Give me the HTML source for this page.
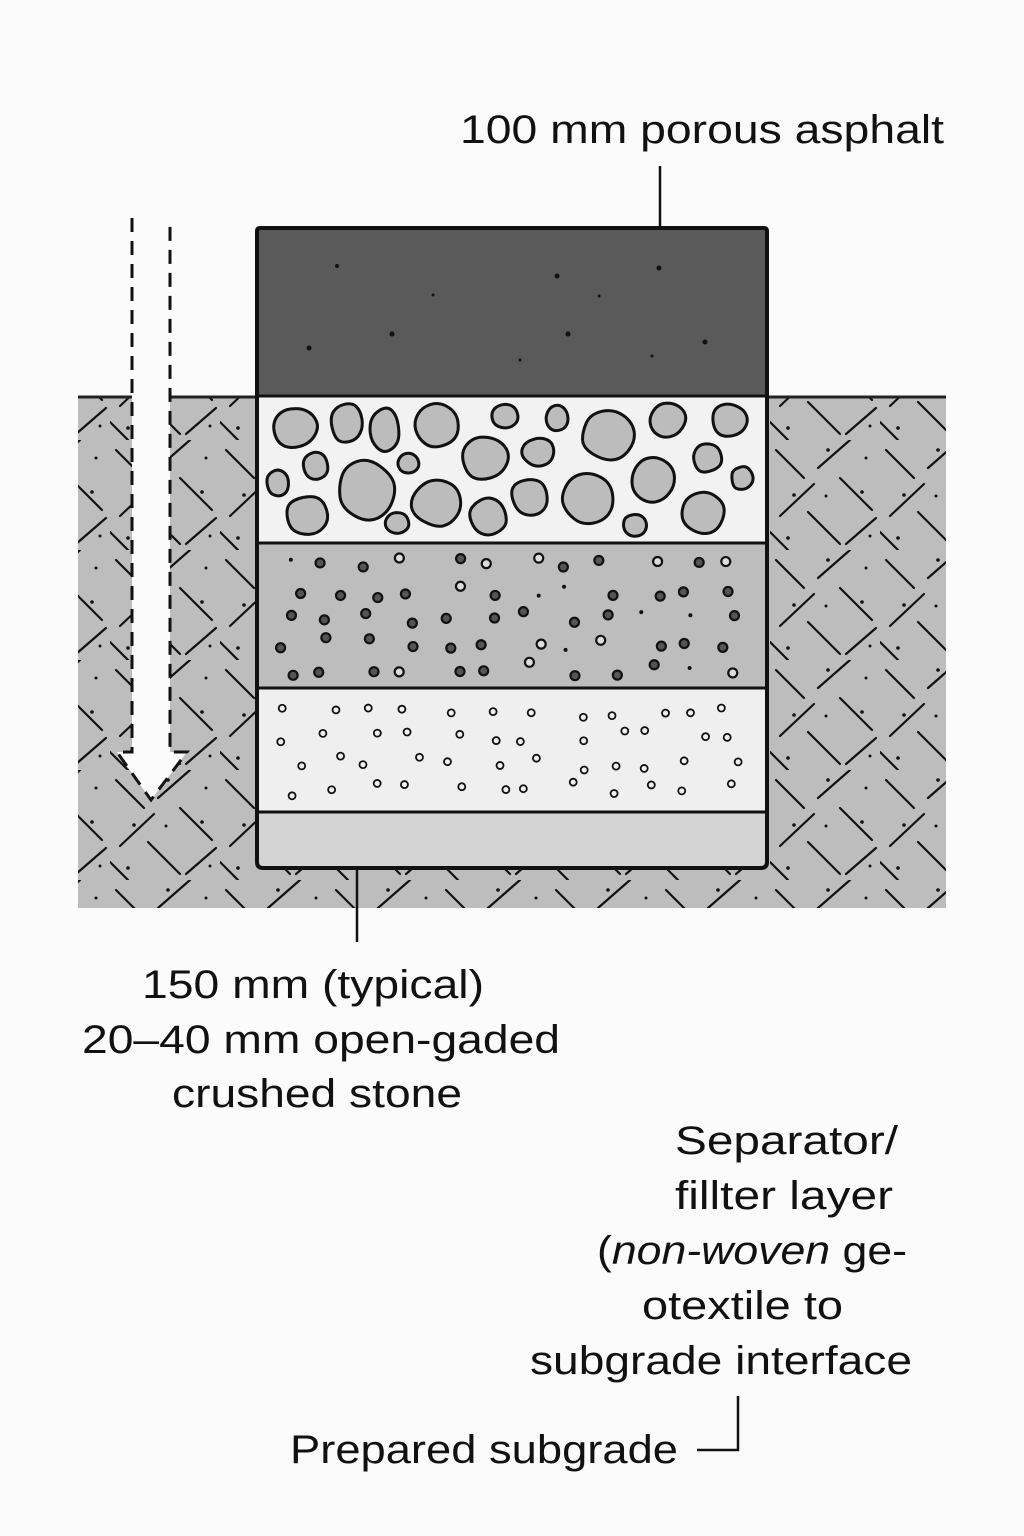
<!DOCTYPE html>
<html><head><meta charset="utf-8"><style>
html,body{margin:0;padding:0;background:#fbfbfb;}
svg{display:block;}
text{font-family:"Liberation Sans",sans-serif;font-size:40px;fill:#111;}
</style></head><body>
<svg id="s" width="1024" height="1536" viewBox="0 0 1024 1536" xmlns="http://www.w3.org/2000/svg">
<defs>
<pattern id="hatch" width="110" height="110" patternUnits="userSpaceOnUse">
<rect width="110" height="110" fill="#bdbdbd"/>
<g stroke="#111" stroke-width="2.2" stroke-linecap="round">
<line x1="6" y1="10" x2="34" y2="38"/>
<line x1="48" y1="28" x2="80" y2="0"/>
<line x1="70" y1="38" x2="102" y2="70"/>
<line x1="10" y1="76" x2="44" y2="44"/>
<line x1="38" y1="72" x2="70" y2="104"/>
<line x1="76" y1="104" x2="106" y2="78"/>
<line x1="0" y1="92" x2="18" y2="110"/>
</g>
<g fill="#111"><circle cx="58" cy="10" r="1.8"/><circle cx="24" cy="55" r="1.8"/><circle cx="92" cy="52" r="1.8"/><circle cx="56" cy="56" r="1.5"/><circle cx="18" cy="98" r="1.8"/><circle cx="100" cy="96" r="1.5"/><circle cx="96" cy="18" r="1.5"/></g>
</pattern>
</defs>
<rect width="1024" height="1536" fill="#fbfbfb"/>
<rect x="78" y="396" width="868" height="512" fill="url(#hatch)"/>
<line x1="78" y1="397" x2="946" y2="397" stroke="#222" stroke-width="3"/>
<path d="M132 218 V752 H117 L151 800 L187 752 H170 V218 Z" fill="#fbfbfb"/>
<g stroke="#111" stroke-width="3" fill="none" stroke-dasharray="14 9">
<path d="M132 218 V752 H117 L151 800 L187 752 H170 V218"/>
</g>
<rect x="257" y="228" width="510" height="168" fill="#5a5a5a"/>
<rect x="257" y="396" width="510" height="147" fill="#f2f2f2"/>
<rect x="257" y="543" width="510" height="145" fill="#bdbdbd"/>
<rect x="257" y="688" width="510" height="124" fill="#efefef"/>
<rect x="257" y="812" width="510" height="56" fill="#d4d4d4"/>
<g id="stones" fill="#bcbcbc" stroke="#111" stroke-width="3"></g>
<g id="dots"></g>
<g stroke="#111" stroke-width="3">
<line x1="257" y1="396" x2="767" y2="396"/>
<line x1="257" y1="543" x2="767" y2="543"/>
<line x1="257" y1="688" x2="767" y2="688"/>
<line x1="257" y1="812" x2="767" y2="812"/>
</g>
<path d="M260 228 H764 Q767 228 767 231 V862 Q767 868 761 868 H263 Q257 868 257 862 V231 Q257 228 260 228 Z" fill="none" stroke="#111" stroke-width="4"/>
<g stroke="#111" stroke-width="2.5" fill="none">
<line x1="660" y1="166" x2="660" y2="228"/>
<line x1="357" y1="868" x2="357" y2="942"/>
<path d="M697 1450 H738 V1396"/>
</g>
<text x="460" y="143" textLength="484" lengthAdjust="spacingAndGlyphs">100 mm porous asphalt</text>
<text x="142" y="998" textLength="342" lengthAdjust="spacingAndGlyphs">150 mm (typical)</text>
<text x="82" y="1053" textLength="478" lengthAdjust="spacingAndGlyphs">20–40 mm open-gaded</text>
<text x="172" y="1107" textLength="290" lengthAdjust="spacingAndGlyphs">crushed stone</text>
<text x="675" y="1154" textLength="223" lengthAdjust="spacingAndGlyphs">Separator/</text>
<text x="675" y="1209" textLength="218" lengthAdjust="spacingAndGlyphs">fillter layer</text>
<text x="597" y="1264" textLength="310" lengthAdjust="spacingAndGlyphs">(<tspan font-style="italic">non-woven</tspan> ge-</text>
<text x="642" y="1319" textLength="201" lengthAdjust="spacingAndGlyphs">otextile to</text>
<text x="530" y="1374" textLength="382" lengthAdjust="spacingAndGlyphs">subgrade interface</text>
<text x="290" y="1463" textLength="388" lengthAdjust="spacingAndGlyphs">Prepared subgrade</text>
<g fill="#111">
<circle cx="337" cy="266" r="2"/><circle cx="557" cy="276" r="2.5"/><circle cx="659" cy="268" r="2.5"/><circle cx="433" cy="295" r="1.5"/><circle cx="599" cy="296" r="1.5"/><circle cx="392" cy="334" r="2.5"/><circle cx="568" cy="334" r="2.5"/><circle cx="705" cy="342" r="2.5"/><circle cx="309" cy="348" r="2.5"/><circle cx="520" cy="360" r="1.5"/><circle cx="652" cy="356" r="1.5"/>
</g>
</svg>
<script>
var NS="http://www.w3.org/2000/svg";
var st=[[295,428,24,22],[347,423,18,21],[385,430,16,25],[437,425,25,24],[505,416,15,13],[315,466,14,15],[408,463,12,11],[278,483,12,14],[367,490,31,33],[307,515,23,21],[437,503,27,26],[397,523,13,12],[485,458,25,24],[488,517,20,21],[530,497,20,20],[538,452,18,16],[557,418,12,14],[608,435,28,27],[668,420,20,19],[730,420,20,18],[707,458,16,16],[588,498,28,28],[653,480,24,25],[742,478,12,13],[703,513,24,23],[635,525,13,12]];
var g=document.getElementById("stones");
var seed=7;function r(){seed=(seed*16807)%2147483647;return seed/2147483647;}
st.forEach(function(s){var n=8,pts=[];for(var i=0;i<n;i++){var a=i/n*2*Math.PI+r()*0.3;var k=0.92+r()*0.1;pts.push([s[0]+Math.cos(a)*s[2]*k,s[1]+Math.sin(a)*s[3]*k]);}
var dd="";for(var i=0;i<n;i++){var p=pts[i],q=pts[(i+1)%n];var m=[(p[0]+q[0])/2,(p[1]+q[1])/2];if(i==0){var l=pts[n-1];dd+="M"+((l[0]+p[0])/2).toFixed(1)+" "+((l[1]+p[1])/2).toFixed(1);}dd+=" Q"+p[0].toFixed(1)+" "+p[1].toFixed(1)+" "+m[0].toFixed(1)+" "+m[1].toFixed(1);}
var e=document.createElementNS(NS,"path");e.setAttribute("d",dd+"Z");g.appendChild(e);});
var d=document.getElementById("dots");
function dot(x,y,rad,fill,sw){var c=document.createElementNS(NS,"circle");c.setAttribute("cx",x);c.setAttribute("cy",y);c.setAttribute("r",rad);c.setAttribute("fill",fill);c.setAttribute("stroke","#111");c.setAttribute("stroke-width",sw);d.appendChild(c);}
for(var row=0;row<5;row++)for(var col=0;col<12;col++){var x=278+col*40+r()*26,y=558+row*26+r()*14;var t=r();if(t<0.12)dot(x,y,2,"#111",0);else dot(x,y,4.5,t<0.82?"#555":"#ddd",2.2);}
for(var row=0;row<4;row++)for(var col=0;col<12;col++){var x=280+col*40+r()*26,y=704+row*26+r()*14;dot(x,y,3.5,"#f2f2f2",1.8);}
</script>
</body></html>
